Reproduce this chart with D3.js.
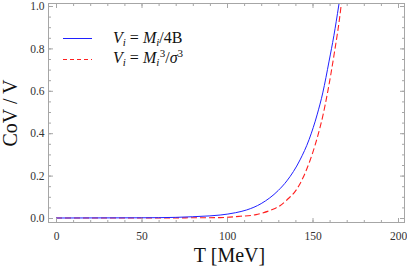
<!DOCTYPE html>
<html><head><meta charset="utf-8">
<script src="https://cdn.jsdelivr.net/npm/d3@7"></script>
<style>body{margin:0;background:#fff}svg{display:block}</style>
</head><body>
<svg id="c" width="407" height="267"></svg>
<script>
// Data
const tBlue = [0, 50, 70, 80, 90, 96, 105, 111.5, 120, 130, 135, 142.7, 148, 152.8, 156, 159.7, 162.5, 165.3, 167];
const covBlue = [0, 0.001, 0.003, 0.006, 0.010, 0.014, 0.025, 0.038, 0.068, 0.13, 0.175, 0.274, 0.37, 0.49, 0.59, 0.74, 0.86, 1.0, 1.09];
const tRed = [0, 60, 80, 96, 107.6, 117, 120, 128, 131, 135, 140.7, 142.7, 148.5, 150, 153, 156, 159, 162.6, 166.7, 168];
const covRed = [0, 0, 0.001, 0.002, 0.008, 0.016, 0.022, 0.045, 0.058, 0.085, 0.135, 0.162, 0.27, 0.305, 0.385, 0.48, 0.6, 0.77, 1.0, 1.1];
const xTicks = [0, 50, 100, 150, 200];
const yTicks = [0.0, 0.2, 0.4, 0.6, 0.8, 1.0];

const svg = d3.select("#c");
const L = 48.5, R = 404.5, T = 3.5, B = 222.5;
const x = d3.scaleLinear().domain([0, 200]).range([56, 398]);
const y = d3.scaleLinear().domain([0, 1]).range([218, 6]);
const frameCol = "#a6a6a6";

svg.append("defs").append("clipPath").attr("id", "clip")
  .append("rect").attr("x", L).attr("y", T).attr("width", R - L).attr("height", B - T);

// Curves
const line = d3.line().curve(d3.curveMonotoneX).x(d => x(d[0])).y(d => y(d[1]));
const g = svg.append("g").attr("clip-path", "url(#clip)");
g.append("path").datum(d3.zip(tRed, covRed)).attr("d", line)
  .attr("fill", "none").attr("stroke", "#ff2020").attr("stroke-width", 1.1).attr("stroke-dasharray", "6,3");
g.append("path").datum(d3.zip(tBlue, covBlue)).attr("d", line)
  .attr("fill", "none").attr("stroke", "#2020ff").attr("stroke-width", 1);

// Frame
svg.append("rect").attr("x", L).attr("y", T).attr("width", R - L).attr("height", B - T)
  .attr("fill", "none").attr("stroke", frameCol).attr("stroke-width", 1);

// Ticks via axes
const xMinor = d3.range(0, 201, 10);
const yMinor = d3.range(0, 1.0001, 0.05);
function styleAxis(sel) {
  sel.select(".domain").remove();
  sel.selectAll(".tick line").attr("stroke", frameCol);
  sel.selectAll(".tick text").attr("fill", "#333").attr("font-family", "Liberation Serif, Times New Roman, serif").attr("font-size", 11.5);
}
// bottom
svg.append("g").attr("transform", `translate(0,${B})`).call(d3.axisTop(x).tickValues(xMinor).tickSize(2.5).tickFormat("")).call(styleAxis);
svg.append("g").attr("transform", `translate(0,${B})`).call(d3.axisTop(x).tickValues(xTicks).tickSize(4.5).tickFormat("")).call(styleAxis);
svg.append("g").attr("transform", `translate(0,${B})`).call(d3.axisBottom(x).tickValues(xTicks).tickSize(0).tickPadding(9).tickFormat(d3.format("d"))).call(styleAxis);
// top
svg.append("g").attr("transform", `translate(0,${T})`).call(d3.axisBottom(x).tickValues(xMinor).tickSize(2.5).tickFormat("")).call(styleAxis);
svg.append("g").attr("transform", `translate(0,${T})`).call(d3.axisBottom(x).tickValues(xTicks).tickSize(4.5).tickFormat("")).call(styleAxis);
// left
svg.append("g").attr("transform", `translate(${L},0)`).call(d3.axisRight(y).tickValues(yMinor).tickSize(2.5).tickFormat("")).call(styleAxis);
svg.append("g").attr("transform", `translate(${L},0)`).call(d3.axisRight(y).tickValues(yTicks).tickSize(4.5).tickFormat("")).call(styleAxis);
svg.append("g").attr("transform", `translate(${L},0)`).call(d3.axisLeft(y).tickValues(yTicks).tickSize(0).tickPadding(4).tickFormat(d3.format(".1f"))).call(styleAxis);
// right
svg.append("g").attr("transform", `translate(${R},0)`).call(d3.axisLeft(y).tickValues(yMinor).tickSize(2.5).tickFormat("")).call(styleAxis);
svg.append("g").attr("transform", `translate(${R},0)`).call(d3.axisLeft(y).tickValues(yTicks).tickSize(4.5).tickFormat("")).call(styleAxis);

// Axis labels
const serif = "Liberation Serif, Times New Roman, serif";
svg.append("text").attr("x", (L + R) / 2 + 3).attr("y", 262).attr("text-anchor", "middle")
  .attr("font-family", serif).attr("font-size", 20).attr("fill", "#111").text("T [MeV]");
svg.append("text").attr("transform", "translate(17,113) rotate(-90)").attr("text-anchor", "middle")
  .attr("font-family", serif).attr("font-size", 20).attr("fill", "#111").text("CoV / V");

// Legend
const lg = svg.append("g");
lg.append("line").attr("x1", 63).attr("x2", 92).attr("y1", 38.5).attr("y2", 38.5)
  .attr("stroke", "#2020ff").attr("stroke-width", 1);
lg.append("line").attr("x1", 63).attr("x2", 92).attr("y1", 59.5).attr("y2", 59.5)
  .attr("stroke", "#ff2020").attr("stroke-width", 1).attr("stroke-dasharray", "4,3");
const fs = 16, sfs = 11;
const t1 = lg.append("text").attr("x", 113).attr("y", 43).attr("font-family", serif).attr("font-size", fs).attr("fill", "#111");
t1.append("tspan").attr("font-style", "italic").text("V");
t1.append("tspan").attr("font-style", "italic").attr("font-size", sfs).attr("dy", 3).text("i");
t1.append("tspan").attr("dy", -3).text(" = ");
t1.append("tspan").attr("font-style", "italic").text("M");
t1.append("tspan").attr("font-style", "italic").attr("font-size", sfs).attr("dy", 3).text("i");
t1.append("tspan").attr("dy", -3).text("/4B");
const t2 = lg.append("text").attr("x", 113).attr("y", 63).attr("font-family", serif).attr("font-size", fs).attr("fill", "#111");
t2.append("tspan").attr("font-style", "italic").text("V");
t2.append("tspan").attr("font-style", "italic").attr("font-size", sfs).attr("dy", 3).text("i");
t2.append("tspan").attr("dy", -3).text(" = ");
t2.append("tspan").attr("font-style", "italic").text("M");
t2.append("tspan").attr("font-style", "italic").attr("font-size", sfs).attr("dy", 3).text("i");
t2.append("tspan").attr("font-size", sfs).attr("dx", 0.5).attr("dy", -9).text("3");
t2.append("tspan").attr("dy", 6).text("/");
t2.append("tspan").attr("font-style", "italic").text("σ");
t2.append("tspan").attr("font-size", sfs).attr("dy", -6).text("3");
</script>
</body></html>
